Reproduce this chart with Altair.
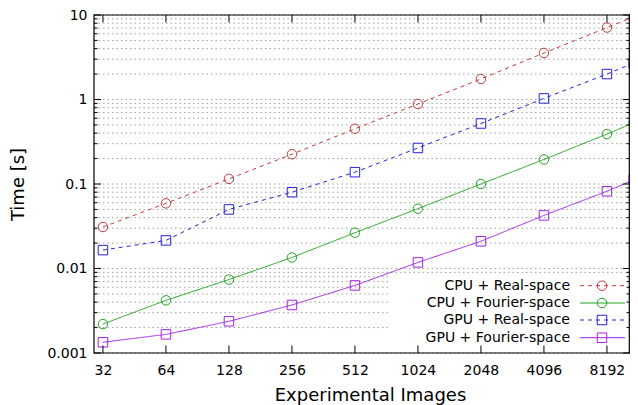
import altair as alt
import pandas as pd

# ---- data ----
images = [32, 64, 128, 256, 512, 1024, 2048, 4096, 8192, 11000]
cpu_real = [0.031, 0.059, 0.115, 0.225, 0.45, 0.885, 1.75, 3.55, 7.1, 9.5]
cpu_fourier = [0.0022, 0.0042, 0.0074, 0.0135, 0.0265, 0.051, 0.100, 0.195, 0.39, 0.53]
gpu_real = [0.0165, 0.0215, 0.050, 0.080, 0.138, 0.267, 0.52, 1.03, 2.0, 2.7]
gpu_fourier = [0.00134, 0.00166, 0.00237, 0.0037, 0.0063, 0.0118, 0.021, 0.0425, 0.082, 0.112]

series_names = ["CPU + Real-space", "CPU + Fourier-space", "GPU + Real-space", "GPU + Fourier-space"]
series_colors = ["#c23b3b", "#1fa51f", "#2323d8", "#a223e8"]
series_dash = [[4, 4], [1, 0], [4, 4], [1, 0]]
series_shape = ["circle", "circle", "square", "square"]

x_ticks = [32, 64, 128, 256, 512, 1024, 2048, 4096, 8192]
y_major = [0.001, 0.01, 0.1, 1, 10]
y_minor = [m * d for d in [0.001, 0.01, 0.1, 1] for m in range(2, 10)]

W, H = 536, 338
FONT = "DejaVu Sans"

rows = []
for name, vals in zip(series_names, [cpu_real, cpu_fourier, gpu_real, gpu_fourier]):
    for xv, yv in zip(images, vals):
        rows.append({"series": name, "images": xv, "time": yv})
df = pd.DataFrame(rows)

xscale = alt.Scale(type="log", base=2, domain=[29, 10560], nice=False)
yscale = alt.Scale(type="log", domain=[0.001, 10], nice=False)

xaxis = alt.Axis(values=x_ticks, format="d", ticks=False, tickSize=0, domain=False, grid=False,
                 labelFontSize=14, labelPadding=10, labelOverlap=False, labelColor="black",
                 title="Experimental Images", titleFontSize=18, titleFontWeight="normal",
                 titleColor="black", titleX=276, titleY=47, titleBaseline="alphabetic")
yaxis = alt.Axis(values=y_major, format="~g", ticks=False, tickSize=0, domain=False, grid=False,
                 labelFontSize=14, labelPadding=7, labelOverlap=False, labelColor="black",
                 title="Time [s]", titleFontSize=18, titleFontWeight="normal",
                 titleColor="black", titleX=-76, titleY=H / 2, titleBaseline="middle")

X = alt.X("images:Q", scale=xscale, axis=xaxis)
Y = alt.Y("time:Q", scale=yscale, axis=yaxis)

color = alt.Color("series:N", scale=alt.Scale(domain=series_names, range=series_colors), legend=None)
dash = alt.StrokeDash("series:N", scale=alt.Scale(domain=series_names, range=series_dash), legend=None)
shape = alt.Shape("series:N", scale=alt.Scale(domain=series_names, range=series_shape), legend=None)

grid_df = pd.DataFrame({"time": y_major + y_minor})
ymaj_df = pd.DataFrame({"time": y_major})
ymin_df = pd.DataFrame({"time": y_minor})
xt_df = pd.DataFrame({"images": x_ticks})
one = pd.DataFrame({"k": [0]})

grid = alt.Chart(grid_df).mark_rule(color="#a0a0a0", strokeDash=[1.5, 3], strokeWidth=1).encode(
    y=Y, x=alt.value(0), x2=alt.value(W))

legend_box = alt.Chart(one).mark_rect(color="white").encode(
    x=alt.value(294), x2=alt.value(W), y=alt.value(258), y2=alt.value(331))

lines = alt.Chart(df).mark_line(strokeWidth=1).encode(x=X, y=Y, color=color, strokeDash=dash,
                                                      detail="series:N")
points = alt.Chart(df).mark_point(filled=False, size=90, strokeWidth=1, opacity=1).encode(
    x=X, y=Y, color=color, shape=shape)

tick_layers = [
    alt.Chart(ymaj_df).mark_rule(color="black").encode(y=Y, x=alt.value(0), x2=alt.value(7)),
    alt.Chart(ymin_df).mark_rule(color="black").encode(y=Y, x=alt.value(0), x2=alt.value(3.5)),
    alt.Chart(ymaj_df).mark_rule(color="black").encode(y=Y, x=alt.value(W - 7), x2=alt.value(W)),
    alt.Chart(ymin_df).mark_rule(color="black").encode(y=Y, x=alt.value(W - 3.5), x2=alt.value(W)),
    alt.Chart(xt_df).mark_rule(color="black").encode(x=X, y=alt.value(H - 7.5), y2=alt.value(H)),
    alt.Chart(xt_df).mark_rule(color="black").encode(x=X, y=alt.value(0), y2=alt.value(7.5)),
]

frame = alt.Chart(one).mark_rect(fillOpacity=0, stroke="black", strokeWidth=1.2).encode(
    x=alt.value(0), x2=alt.value(W - 0.7), y=alt.value(0), y2=alt.value(H))

legend_rows = [270.7, 288, 305, 322.7]
legend_layers = []
for name, ly in zip(series_names, legend_rows):
    ldf = pd.DataFrame({"series": [name]})
    legend_layers.append(alt.Chart(ldf).mark_text(align="right", baseline="middle", fontSize=14,
                                                  color="black").encode(
        x=alt.value(476), y=alt.value(ly), text="series:N"))
    legend_layers.append(alt.Chart(ldf).mark_rule(strokeWidth=1).encode(
        x=alt.value(486), x2=alt.value(531), y=alt.value(ly), color=color, strokeDash=dash))
    legend_layers.append(alt.Chart(ldf).mark_point(filled=False, size=90, strokeWidth=1, opacity=1).encode(
        x=alt.value(508), y=alt.value(ly), color=color, shape=shape))

chart = alt.layer(grid, legend_box, lines, points, *tick_layers, frame, *legend_layers).properties(
    width=W, height=H,
    autosize=alt.AutoSizeParams(type="none"),
    padding={"left": 86, "top": 7, "right": 0, "bottom": 52},
).configure(font=FONT).configure_view(stroke=None)

chart.save("out.html", embed_options={"renderer": "svg", "actions": False})
